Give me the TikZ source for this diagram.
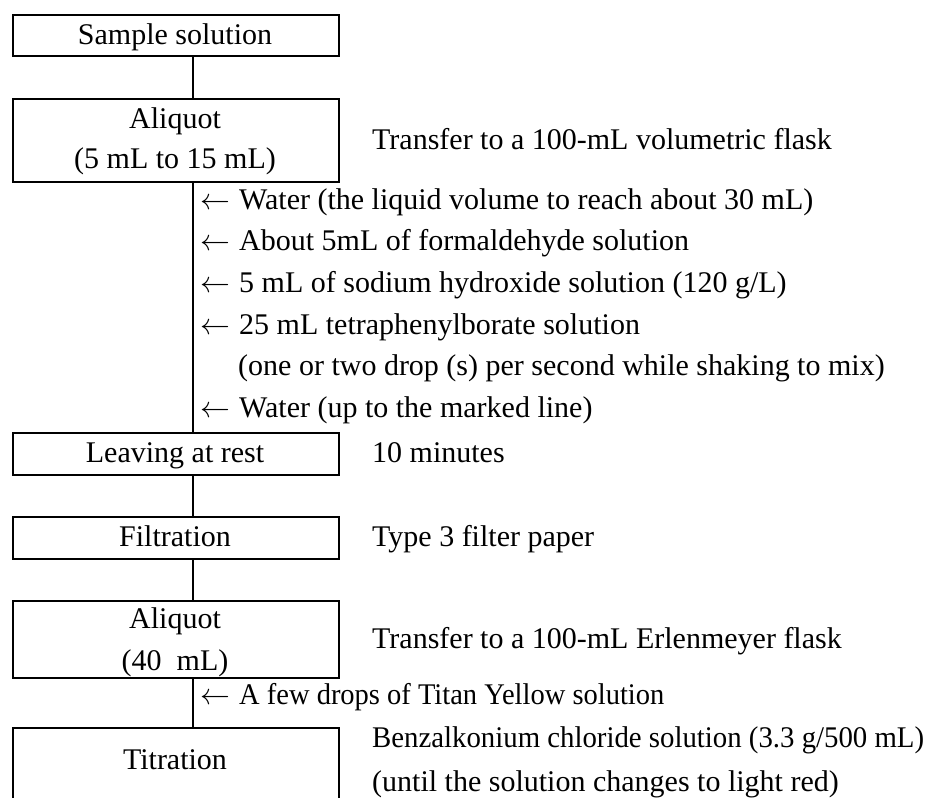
\documentclass[tikz,border=0pt]{standalone}
\usepackage{fontspec}
\setmainfont{Liberation Serif}
\newcommand{\addarr}{\makebox[30pt][l]{\scalebox{1.2}{$\leftarrow$}}\hspace{9pt}}
\begin{document}
\begin{tikzpicture}[x=1pt,y=-1pt,
  box/.style={draw, line width=2pt, rectangle, minimum width=326pt, inner sep=0pt, anchor=north west},
  ltxt/.style={font=\fontsize{30}{36}\selectfont, inner sep=0pt, anchor=base west},
  ctxt/.style={font=\fontsize{30}{36}\selectfont, inner sep=0pt, anchor=base},
  link/.style={line width=1.5pt}]
\useasboundingbox (0,0) rectangle (943,798);
\clip (0,0) rectangle (943,798);
% boxes
\node[box, minimum height=41pt] (b1) at (12,14) {};
\node[box, minimum height=83pt] (b2) at (12,98) {};
\node[box, minimum height=42pt] (b3) at (12,432) {};
\node[box, minimum height=42pt] (b4) at (12,516) {};
\node[box, minimum height=77pt] (b5) at (12,600) {};
\node[box, minimum height=100pt] (b6) at (12,727) {};
% box texts
\node[ctxt] (t1) at (175,44.5) {Sample solution};
\node[ctxt] (t2a) at (175,128) {Aliquot};
\node[ctxt] (t2b) at (175,168) {(5 mL to 15 mL)};
\node[ctxt] (t3) at (175,462) {Leaving at rest};
\node[ctxt] (t4) at (175,546) {Filtration};
\node[ctxt] (t5a) at (175,628) {Aliquot};
\node[ctxt] (t5b) at (175,670) {(40\ \ mL)};
\node[ctxt] (t6) at (175,769) {Titration};
% connectors
\coordinate (lx) at (193,0);
\draw[link] (b1.south -| lx) -- (b2.north -| lx);
\draw[link] (b2.south -| lx) -- (b3.north -| lx);
\draw[link] (b3.south -| lx) -- (b4.north -| lx);
\draw[link] (b4.south -| lx) -- (b5.north -| lx);
\draw[link] (b5.south -| lx) -- (b6.north -| lx);
% additions
\node[ltxt] (a1) at (200,209) {\addarr Water (the liquid volume to reach about 30 mL)};
\node[ltxt] (a2) at (200,250.7) {\addarr About 5mL of formaldehyde solution};
\node[ltxt] (a3) at (200,292.4) {\addarr 5 mL of sodium hydroxide solution (120 g/L)};
\node[ltxt] (a4) at (200,334.1) {\addarr 25 mL tetraphenylborate solution};
\node[ltxt] (a4b) at (238,375.8) {(one or two drop (s) per second while shaking to mix)};
\node[ltxt] (a5) at (200,417.5) {\addarr Water (up to the marked line)};
\node[ltxt] (a6) at (200,704) {\addarr \scalebox{0.95}[1]{A few drops of Titan Yellow solution}};
% right notes
\node[ltxt] (r1) at (372,149) {Transfer to a 100-mL volumetric flask};
\node[ltxt] (r2) at (372,462) {10 minutes};
\node[ltxt] (r3) at (372,546) {Type 3 filter paper};
\node[ltxt] (r4) at (372,648) {Transfer to a 100-mL Erlenmeyer flask};
\node[ltxt] (r5) at (372,747) {\scalebox{0.96}[1]{Benzalkonium chloride solution (3.3 g/500 mL)}};
\node[ltxt] (r6) at (372,791) {(until the solution changes to light red)};
\end{tikzpicture}
\end{document}
